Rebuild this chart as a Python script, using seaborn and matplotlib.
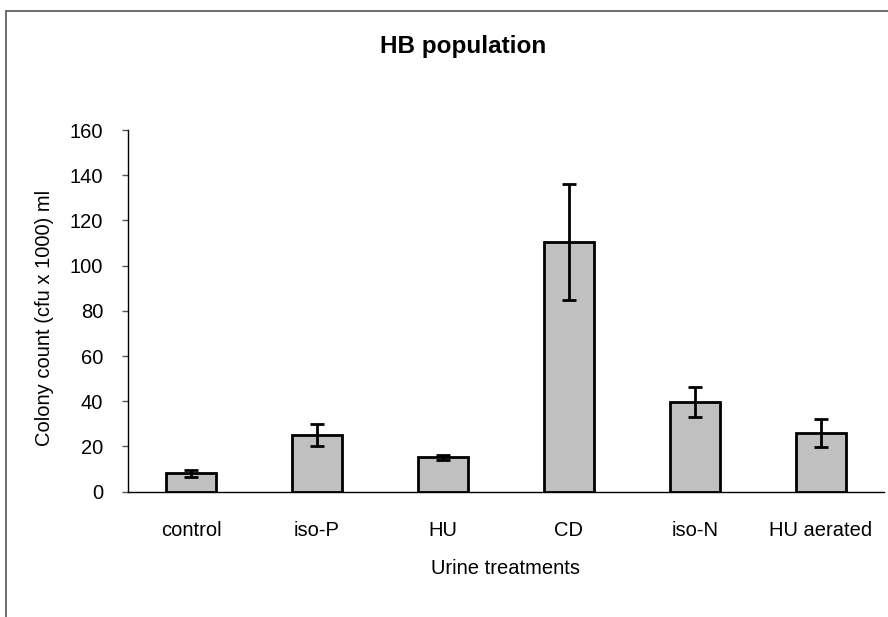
import matplotlib
matplotlib.use('Agg')
import matplotlib.pyplot as plt
from matplotlib.lines import Line2D
import numpy as np
import pandas as pd
import seaborn as sns

# values
treatments = ['control', 'iso-P', 'HU', 'CD', 'iso-N', 'HU aerated']
mean_counts = [8.2, 25.1, 15.2, 110.6, 39.8, 25.8]
err_counts = [1.5, 4.9, 1.0, 25.6, 6.6, 6.2]
y_ticks = [0, 20, 40, 60, 80, 100, 120, 140, 160]

df = pd.DataFrame({'treatment': treatments, 'count': mean_counts, 'err': err_counts})

sns.set_style('white')
plt.rcParams['font.family'] = ['Liberation Sans', 'DejaVu Sans']
plt.rcParams['text.color'] = 'black'
plt.rcParams['xtick.labelcolor'] = 'black'
plt.rcParams['ytick.labelcolor'] = 'black'
plt.rcParams['axes.labelcolor'] = 'black'

fig = plt.figure(figsize=(8.88, 6.17), dpi=100)
ax = fig.add_axes([0.1441, 0.2031, 0.8514, 0.5862])

sns.barplot(data=df, x='treatment', y='count', color='#c0c0c0', width=0.4,
            edgecolor='black', linewidth=2, saturation=1, errorbar=None, ax=ax)
ax.errorbar(np.arange(len(treatments)), df['count'], yerr=df['err'], fmt='none',
            ecolor='black', elinewidth=2, capsize=5, capthick=2, zorder=5)

ax.set_xlim(-0.5, len(treatments) - 0.5)
ax.set_ylim(0, 160)
ax.set_yticks(y_ticks)
ax.set_yticklabels([str(t) for t in y_ticks], fontsize=14.5)
ax.set_xticks(np.arange(len(treatments)))
ax.set_xticklabels(treatments, fontsize=14.5)
ax.set_xticks(np.arange(-0.5, len(treatments)), minor=True)
ax.tick_params(axis='x', which='major', length=0, pad=21)
ax.tick_params(axis='x', which='minor', length=4.3, width=1, color='#555555', direction='out')
ax.tick_params(axis='y', length=4.3, width=1, color='#555555', direction='out', pad=13.5, left=True)

sns.despine(ax=ax)
for side in ['left', 'bottom']:
    ax.spines[side].set_color('black')
    ax.spines[side].set_linewidth(1)

ax.set_xlabel('Urine treatments', fontsize=14.5, va='center')
ax.xaxis.set_label_coords(0.5, -0.211)
ax.set_ylabel('Colony count (cfu x 1000) ml', fontsize=14.5, va='center')
ax.yaxis.set_label_coords(-0.11, 0.48)
fig.text(463 / 888, 1 - 46 / 617, 'HB population', fontsize=17.5, fontweight='bold',
         ha='center', va='center')

# chart frame (only top and left edge visible in the crop)
fig.add_artist(Line2D([6 / 888, 1], [1 - 11 / 617, 1 - 11 / 617], color='#555555', lw=1.2))
fig.add_artist(Line2D([6 / 888, 6 / 888], [0, 1 - 11 / 617], color='#555555', lw=1.2))

fig.savefig('out.png', dpi=100)
